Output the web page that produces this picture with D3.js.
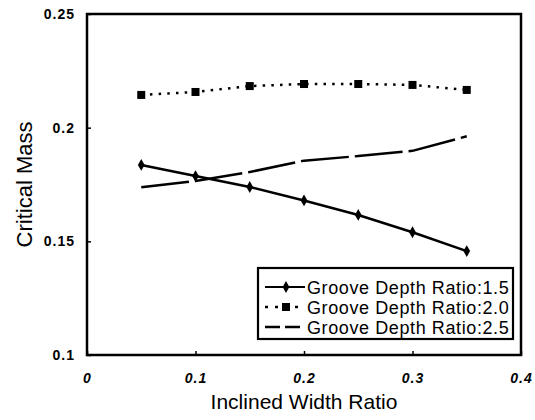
<!DOCTYPE html>
<html><head><meta charset="utf-8">
<script src="https://cdn.jsdelivr.net/npm/d3@7"></script>
<style>
html,body{margin:0;padding:0;background:#fff;}
svg{display:block;}
</style></head>
<body>
<svg id="chart" width="535" height="420"></svg>
<script>
const xValues = [0.05, 0.10, 0.15, 0.20, 0.25, 0.30, 0.35];
const depth15 = [0.1836, 0.1787, 0.1739, 0.1680, 0.1616, 0.1540, 0.1457];
const depth20 = [0.2144, 0.2157, 0.2183, 0.2192, 0.2192, 0.2188, 0.2166];
const depth25 = [0.1738, 0.1765, 0.1805, 0.1855, 0.1875, 0.1898, 0.1962];
const seriesNames = ["Groove Depth Ratio:1.5", "Groove Depth Ratio:2.0", "Groove Depth Ratio:2.5"];
const xTicks = [0, 0.1, 0.2, 0.3, 0.4];
const xTickLabels = ["0", "0.1", "0.2", "0.3", "0.4"];
const yTicks = [0.1, 0.15, 0.2, 0.25];
const yTickLabels = ["0.1", "0.15", "0.2", "0.25"];
const xTitle = "Inclined Width Ratio";
const yTitle = "Critical Mass";

const svg = d3.select("#chart");
const L = 87, R = 521, T = 14, B = 355;
const x = d3.scaleLinear().domain([0, 0.4]).range([L, R]);
const y = d3.scaleLinear().domain([0.1, 0.25]).range([B, T]);

// axes (ticks inward)
const xAxis = d3.axisBottom(x).tickValues(xTicks).tickSize(-4).tickFormat((d,i)=>xTickLabels[i]).tickPadding(18);
const gx = svg.append("g").attr("transform", `translate(0,${B})`).call(xAxis);
gx.select(".domain").remove();
gx.selectAll(".tick line").attr("stroke", "#000").attr("stroke-width", 1.5);
gx.selectAll(".tick text").attr("font-family", "Liberation Sans, Arial, sans-serif")
  .attr("font-size", 14).attr("font-weight", "bold").attr("font-style", "italic")
  .attr("letter-spacing", "1px").attr("fill", "#000");

const yAxis = d3.axisLeft(y).tickValues(yTicks).tickSize(-4).tickFormat((d,i)=>yTickLabels[i]).tickPadding(12);
const gy = svg.append("g").attr("transform", `translate(${L},0)`).call(yAxis);
gy.select(".domain").remove();
gy.selectAll(".tick line").attr("stroke", "#000").attr("stroke-width", 1.5);
gy.selectAll(".tick text").attr("font-family", "Liberation Sans, Arial, sans-serif")
  .attr("font-size", 14).attr("font-weight", "bold")
  .attr("letter-spacing", "1px").attr("fill", "#000");

// frame
svg.append("rect").attr("x", L).attr("y", T).attr("width", R - L).attr("height", B - T)
  .attr("fill", "none").attr("stroke", "#000").attr("stroke-width", 2.5);

const line = d3.line().x(d => x(d[0])).y(d => y(d[1]));
const pts = arr => xValues.map((v, i) => [v, arr[i]]);

// series 1.5 solid with diamonds
svg.append("path").datum(pts(depth15)).attr("d", line)
  .attr("fill", "none").attr("stroke", "#000").attr("stroke-width", 2.5);
svg.selectAll(".dia").data(pts(depth15)).enter().append("path")
  .attr("d", d3.symbol().type(d3.symbolDiamond).size(40))
  .attr("transform", d => `translate(${x(d[0])},${y(d[1])})`).attr("fill", "#000");

// series 2.0 dotted with squares
svg.append("path").datum(pts(depth20)).attr("d", line)
  .attr("fill", "none").attr("stroke", "#000").attr("stroke-width", 2.5)
  .attr("stroke-dasharray", "2.5,6.2");
svg.selectAll(".sq").data(pts(depth20)).enter().append("rect")
  .attr("x", d => x(d[0]) - 4).attr("y", d => y(d[1]) - 4)
  .attr("width", 8).attr("height", 8).attr("fill", "#000");

// series 2.5 long dashes
svg.append("path").datum(pts(depth25)).attr("d", line)
  .attr("fill", "none").attr("stroke", "#000").attr("stroke-width", 2.5)
  .attr("stroke-dasharray", "48,6");

// titles
svg.append("text").attr("x", (L + R) / 2).attr("y", 409).attr("text-anchor", "middle")
  .attr("font-family", "Liberation Sans, Arial, sans-serif").attr("font-size", 21)
  .attr("fill", "#000").text(xTitle);
svg.append("text").attr("transform", `translate(32,${(122+247)/2}) rotate(-90)`).attr("text-anchor", "middle")
  .attr("font-family", "Liberation Sans, Arial, sans-serif").attr("font-size", 22)
  .attr("fill", "#000").text(yTitle);

// legend
const lg = svg.append("g");
lg.append("rect").attr("x", 258).attr("y", 268).attr("width", 255).attr("height", 71)
  .attr("fill", "#fff").attr("stroke", "#000").attr("stroke-width", 2.2);
const rowY = [287, 307, 327];
const sx0 = 265, sx1 = 305, sm = 286;
// row 1
lg.append("line").attr("x1", sx0).attr("x2", sx1).attr("y1", rowY[0]).attr("y2", rowY[0])
  .attr("stroke", "#000").attr("stroke-width", 2);
lg.append("path").attr("d", d3.symbol().type(d3.symbolDiamond).size(40))
  .attr("transform", `translate(${sm},${rowY[0]})`).attr("fill", "#000");
// row 2
lg.append("line").attr("x1", sx0).attr("x2", sx1).attr("y1", rowY[1]).attr("y2", rowY[1])
  .attr("stroke", "#000").attr("stroke-width", 2.5).attr("stroke-dasharray", "3,7");
lg.append("rect").attr("x", sm - 4).attr("y", rowY[1] - 4).attr("width", 8).attr("height", 8).attr("fill", "#000");
// row 3
lg.append("line").attr("x1", sx0).attr("x2", sx1).attr("y1", rowY[2]).attr("y2", rowY[2])
  .attr("stroke", "#000").attr("stroke-width", 2.5).attr("stroke-dasharray", "15,5");
lg.selectAll(".lt").data(seriesNames).enter().append("text")
  .attr("x", 307).attr("y", (d, i) => rowY[i] + 6.5)
  .attr("font-family", "Liberation Sans, Arial, sans-serif").attr("font-size", 18)
  .attr("letter-spacing", "0.6px").attr("fill", "#000").text(d => d);
</script>
</body></html>
